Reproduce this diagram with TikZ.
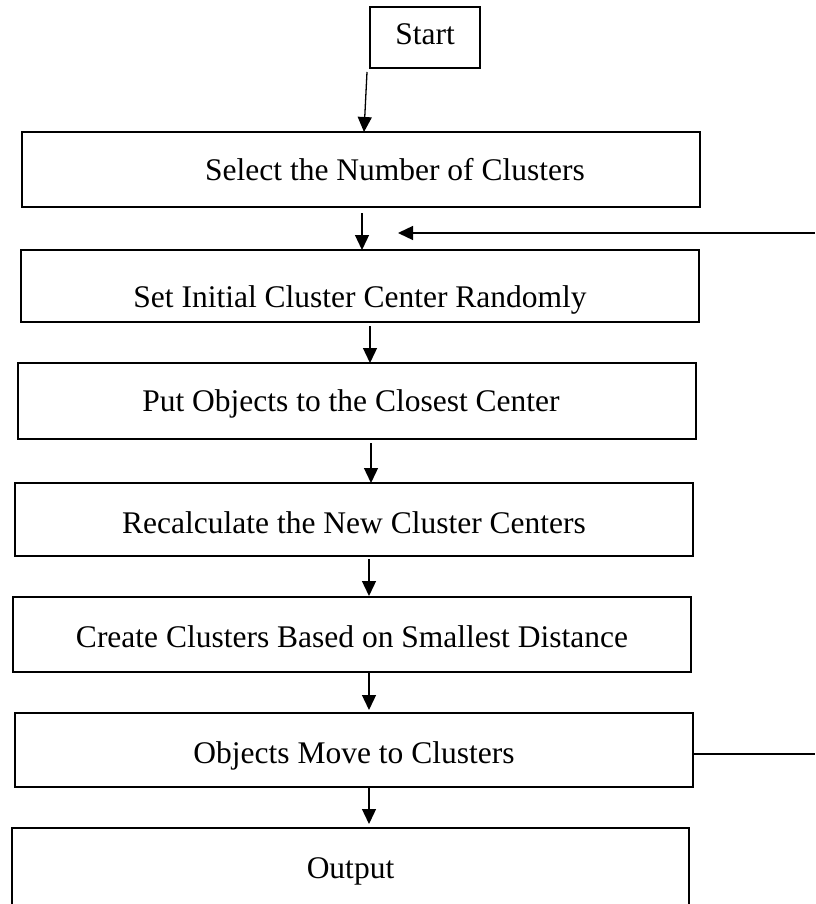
\documentclass[tikz,border=0pt]{standalone}
\usepackage{fontspec}
\setmainfont{Liberation Serif}
\usetikzlibrary{arrows.meta}
\begin{document}
\begin{tikzpicture}[x=1pt,y=-1pt,
  box/.style={draw=black, line width=1.4pt, rectangle, inner sep=0pt, outer sep=0pt,
    font=\fontsize{31.5}{38}\selectfont, text height=21.4pt, text depth=0pt},
  arr/.style={line width=1.3pt, -{Triangle[length=15pt,width=14pt]}},
  link/.style={line width=1.3pt}]
\useasboundingbox (0,0) rectangle (815,904);
\node[box, minimum width=110pt, minimum height=61pt] (start) at (425,37.5) {\raisebox{4pt}{Start}};
\node[box, minimum width=678pt, minimum height=75pt] (select) at (361,169.5) {\hspace*{68pt}Select the Number of Clusters};
\node[box, minimum width=678pt, minimum height=72pt] (set) at (360,286) {\raisebox{-11pt}{Set Initial Cluster Center Randomly}};
\node[box, minimum width=678pt, minimum height=76pt] (put) at (357,401) {Put Objects to the Closest Center\hspace*{12pt}};
\node[box, minimum width=678pt, minimum height=73pt] (recalc) at (354,519.5) {\raisebox{-3pt}{Recalculate the New Cluster Centers}};
\node[box, minimum width=678pt, minimum height=75pt] (create) at (352,634.5) {\raisebox{-2.5pt}{Create Clusters Based on Smallest Distance}};
\node[box, minimum width=678pt, minimum height=74pt] (objects) at (354,750) {\raisebox{-3pt}{Objects Move to Clusters}};
\node[box, minimum width=677pt, minimum height=80pt] (output) at (350.5,868) {Output};
\coordinate (loopA) at (815,754);
\coordinate (loopB) at (815,233);
\coordinate (loopTip) at (398,233);
\draw[arr] ([xshift=-58pt,yshift=-4pt]start.south) -- ([xshift=3pt]select.north);
\draw[arr] ([xshift=1pt,yshift=-6pt]select.south) -- ([xshift=2pt]set.north);
\draw[arr] ([xshift=10pt,yshift=-4pt]set.south) -- ([xshift=13pt]put.north);
\draw[arr] ([xshift=14pt,yshift=-4pt]put.south) -- ([xshift=17pt]recalc.north);
\draw[arr] ([xshift=15pt,yshift=-3pt]recalc.south) -- ([xshift=17pt,yshift=1pt]create.north);
\draw[arr] ([xshift=17pt,yshift=-1pt]create.south) -- ([xshift=15pt,yshift=3pt]objects.north);
\draw[arr] ([xshift=15pt]objects.south) -- ([xshift=18.5pt,yshift=4pt]output.north);
\draw[link] ([yshift=-4pt]objects.east) -- (loopA);
\draw[arr] (loopB) -- (loopTip);
\end{tikzpicture}
\end{document}
